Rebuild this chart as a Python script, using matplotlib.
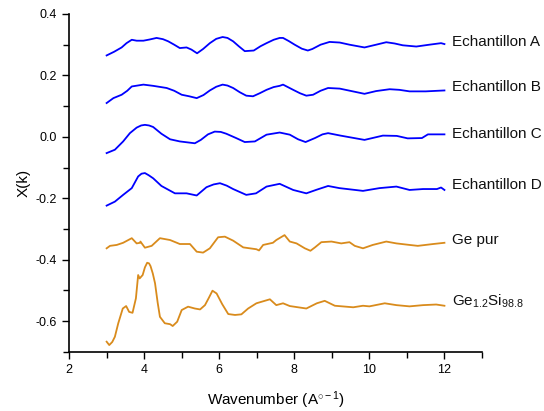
import matplotlib
matplotlib.use("Agg")
import matplotlib.pyplot as plt
from matplotlib.ticker import MultipleLocator

plt.rcParams['font.family'] = ['Liberation Sans', 'DejaVu Sans']
plt.rcParams['mathtext.fontset'] = 'custom'
plt.rcParams['mathtext.rm'] = 'Liberation Sans'
plt.rcParams['mathtext.it'] = 'Liberation Sans'

# Echantillon A
kA = [3.0, 3.2, 3.4, 3.53, 3.67, 3.8, 3.98, 4.15, 4.33, 4.5, 4.64, 4.8, 4.95, 5.13, 5.26, 5.41, 5.57,
      5.75, 5.92, 6.09, 6.22, 6.37, 6.52, 6.68, 6.92, 7.1, 7.26, 7.45, 7.61, 7.70, 7.85, 8.01, 8.2,
      8.36, 8.48, 8.7, 8.94, 9.21, 9.47, 9.87, 10.18, 10.45, 10.67, 10.89, 11.25, 11.60, 11.91, 12.0]
vA = [0.265, 0.277, 0.291, 0.305, 0.316, 0.313, 0.313, 0.317, 0.322, 0.318, 0.311, 0.300, 0.289,
      0.291, 0.284, 0.272, 0.286, 0.305, 0.319, 0.325, 0.322, 0.311, 0.295, 0.279, 0.281, 0.295,
      0.305, 0.316, 0.322, 0.322, 0.312, 0.300, 0.287, 0.281, 0.286, 0.300, 0.309, 0.307, 0.300,
      0.291, 0.300, 0.308, 0.304, 0.298, 0.294, 0.300, 0.305, 0.302]

# Echantillon B
kB = [3.0, 3.18, 3.40, 3.55, 3.67, 3.98, 4.24, 4.60, 4.8, 5.00, 5.20, 5.40, 5.58, 5.75, 5.92, 6.09,
      6.22, 6.37, 6.55, 6.72, 6.90, 7.08, 7.26, 7.45, 7.61, 7.70, 7.97, 8.15, 8.32, 8.50, 8.70,
      8.90, 9.21, 9.56, 9.87, 10.18, 10.54, 10.80, 11.07, 11.50, 12.0]
vB = [0.110, 0.126, 0.137, 0.150, 0.164, 0.170, 0.166, 0.159, 0.150, 0.137, 0.132, 0.126, 0.136,
      0.151, 0.163, 0.170, 0.167, 0.159, 0.145, 0.134, 0.132, 0.142, 0.153, 0.162, 0.166, 0.170,
      0.153, 0.142, 0.134, 0.137, 0.150, 0.159, 0.157, 0.148, 0.140, 0.149, 0.155, 0.153, 0.148,
      0.148, 0.151]

# Echantillon C
kC = [3.0, 3.22, 3.44, 3.62, 3.80, 3.92, 4.02, 4.13, 4.24, 4.46, 4.69, 4.95, 5.35, 5.51, 5.7, 5.88,
      6.04, 6.19, 6.45, 6.68, 6.95, 7.26, 7.61, 7.88, 8.10, 8.30, 8.55, 8.75, 8.90, 9.23, 9.87,
      10.36, 10.73, 11.02, 11.40, 11.56, 12.0]
vC = [-0.053, -0.042, -0.015, 0.012, 0.030, 0.037, 0.039, 0.037, 0.032, 0.010, -0.008, -0.015,
      -0.021, -0.010, 0.008, 0.017, 0.016, 0.010, -0.004, -0.017, -0.015, 0.007, 0.014, 0.007,
      -0.008, -0.017, -0.004, 0.008, 0.012, 0.004, -0.010, 0.004, 0.003, -0.005, -0.004, 0.008, 0.008]

# Echantillon D
kD = [3.0, 3.22, 3.44, 3.67, 3.84, 3.93, 4.02, 4.12, 4.24, 4.46, 4.82, 5.13, 5.40, 5.66, 5.85,
      6.02, 6.20, 6.37, 6.72, 6.98, 7.26, 7.61, 7.97, 8.32, 8.60, 8.90, 9.20, 9.83, 10.27, 10.72,
      11.07, 11.43, 11.80, 11.91, 12.0]
vD = [-0.224, -0.211, -0.189, -0.167, -0.129, -0.120, -0.118, -0.125, -0.135, -0.160, -0.184,
      -0.184, -0.191, -0.164, -0.155, -0.151, -0.159, -0.170, -0.189, -0.184, -0.162, -0.153,
      -0.173, -0.184, -0.172, -0.160, -0.167, -0.176, -0.167, -0.162, -0.173, -0.170, -0.170,
      -0.165, -0.173]

# Ge pur
kG = [3.0, 3.09, 3.27, 3.44, 3.67, 3.80, 3.89, 3.90, 4.02, 4.20, 4.42, 4.69, 4.95, 5.22, 5.40, 5.57,
      5.75, 5.97, 6.15, 6.37, 6.64, 6.99, 7.06, 7.17, 7.43, 7.52, 7.74, 7.88, 8.06, 8.28, 8.43, 8.55,
      8.72, 8.99, 9.25, 9.47, 9.61, 9.83, 10.09, 10.45, 10.72, 11.07, 11.29, 11.70, 12.0]
vG = [-0.363, -0.355, -0.352, -0.345, -0.330, -0.347, -0.345, -0.341, -0.361, -0.355, -0.330, -0.336,
      -0.349, -0.349, -0.374, -0.377, -0.363, -0.327, -0.325, -0.338, -0.360, -0.366, -0.370, -0.352,
      -0.345, -0.336, -0.320, -0.341, -0.347, -0.363, -0.371, -0.360, -0.343, -0.341, -0.347, -0.343,
      -0.355, -0.363, -0.352, -0.341, -0.347, -0.352, -0.355, -0.349, -0.345]

# Ge1.2Si98.8
kS = [3.0, 3.07, 3.15, 3.22, 3.31, 3.43, 3.52, 3.60, 3.69, 3.78, 3.84, 3.88, 3.96, 4.02, 4.08, 4.13,
      4.17, 4.23, 4.29, 4.36, 4.42, 4.55, 4.69, 4.76, 4.88, 5.00, 5.17, 5.35, 5.49, 5.62, 5.72, 5.82,
      5.93, 6.08, 6.24, 6.42, 6.59, 6.77, 6.99, 7.35, 7.52, 7.70, 7.88, 8.32, 8.60, 8.81, 9.08, 9.57,
      9.83, 10.0, 10.41, 10.72, 11.07, 11.43, 11.78, 12.0]
vS = [-0.667, -0.678, -0.668, -0.651, -0.607, -0.559, -0.551, -0.570, -0.573, -0.526, -0.450,
      -0.461, -0.450, -0.425, -0.410, -0.412, -0.421, -0.445, -0.477, -0.540, -0.586, -0.607,
      -0.610, -0.616, -0.602, -0.564, -0.553, -0.559, -0.562, -0.548, -0.525, -0.501, -0.510,
      -0.545, -0.577, -0.580, -0.578, -0.559, -0.542, -0.529, -0.548, -0.542, -0.551, -0.559,
      -0.542, -0.534, -0.550, -0.555, -0.550, -0.552, -0.542, -0.548, -0.552, -0.548, -0.546, -0.550]

labels = ['Echantillon A', 'Echantillon B', 'Echantillon C', 'Echantillon D', 'Ge pur',
          r'Ge$_{1.2}$Si$_{98.8}$']
label_y = [0.31, 0.163, 0.01, -0.157, -0.336, -0.537]

blue = '#0000FF'
orange = '#D98B1C'
series = [(kA, vA, blue), (kB, vB, blue), (kC, vC, blue), (kD, vD, blue),
          (kG, vG, orange), (kS, vS, orange)]

fig = plt.figure(figsize=(5.44, 4.11), dpi=100)
ax = fig.add_axes([0.127, 0.144, 0.759, 0.822])
for (k, v, c), lab, ly in zip(series, labels, label_y):
    ax.plot(k, v, color=c, lw=1.3, solid_joinstyle='round')
    ax.text(12.2, ly, lab, fontsize=11, va='center', ha='left', color='#111111')

ax.set_xlim(2, 13)
ax.set_ylim(-0.7, 0.4)
ax.xaxis.set_major_locator(MultipleLocator(2))
ax.xaxis.set_minor_locator(MultipleLocator(1))
ax.yaxis.set_minor_locator(MultipleLocator(0.1))
ax.set_yticks([-0.6, -0.4, -0.2, 0.0, 0.2, 0.4])
ax.set_yticklabels(['-0.6', '-0.4', '-0.2', '0.0', '0.2', '0.4'])
ax.spines['top'].set_visible(False)
ax.spines['right'].set_visible(False)
for s in ['left', 'bottom']:
    ax.spines[s].set_linewidth(1.2)
ax.tick_params(which='both', direction='out', width=1.0, labelsize=9)
ax.tick_params(which='major', length=5)
ax.tick_params(which='minor', length=4)
ax.set_xlabel(r'Wavenumber (A$^{\circ-1}$)', fontsize=11, labelpad=10)
ax.set_ylabel('X(k)', fontsize=11, labelpad=4)
fig.savefig('out.png', dpi=100)
